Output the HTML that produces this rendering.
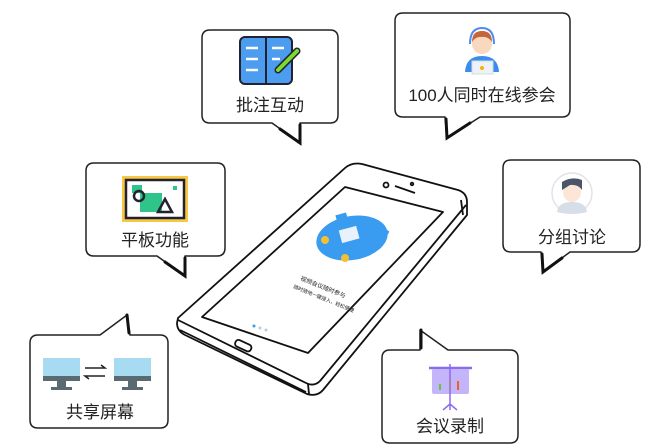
<!DOCTYPE html>
<html><head><meta charset="utf-8"><style>
html,body{margin:0;padding:0;background:#fff;width:671px;height:448px;overflow:hidden}
text{font-family:"Liberation Sans","Noto Sans CJK SC",sans-serif;fill:#222}
</style></head><body>
<svg width="671" height="448" viewBox="0 0 671 448" xmlns="http://www.w3.org/2000/svg">
<g fill="#fff" stroke="#222" stroke-width="1.5" stroke-linejoin="round">
<!-- 批注互动 -->
<path d="M210,30 H330 Q338,30 338,38 V115 Q338,123 330,123 H300 V143 L272,123 H210 Q202,123 202,115 V38 Q202,30 210,30 Z"/>
<!-- 100人 -->
<path d="M403,13 H562 Q570,13 570,21 V109 Q570,117 562,117 H480 L447,138 L445,117 H403 Q395,117 395,109 V21 Q395,13 403,13 Z"/>
<!-- 平板功能 -->
<path d="M94,163 H217 Q225,163 225,171 V248 Q225,256 217,256 H185 V276 L157,256 H94 Q86,256 86,248 V171 Q86,163 94,163 Z"/>
<!-- 分组讨论 -->
<path d="M511,160 H632 Q640,160 640,168 V244 Q640,252 632,252 H570 L543,272 L541,252 H511 Q503,252 503,244 V168 Q503,160 511,160 Z"/>
<!-- 共享屏幕 -->
<path d="M38,335 H100 L127,315 L130,335 H160 Q168,335 168,343 V420 Q168,428 160,428 H38 Q30,428 30,420 V343 Q30,335 38,335 Z"/>
<!-- 会议录制 -->
<path d="M390,350 H420 V330 L448,350 H510 Q518,350 518,358 V435 Q518,443 510,443 H390 Q382,443 382,435 V358 Q382,350 390,350 Z"/>
</g>
<g stroke="#111" stroke-width="3" fill="none" stroke-linecap="round">
<path d="M300,125 V143 L280,129"/><path d="M446,119 L447,138 L470,123"/>
<path d="M185,258 V276 L165,262"/><path d="M542,254 L543,272 L562,258"/>
<path d="M127,315 L129,333"/><path d="M421,330 L421,348"/>
</g>
<!-- texts -->
<g font-size="17" text-anchor="middle">
<text x="270" y="111">批注互动</text>
<text x="482" y="101">100人同时在线参会</text>
<text x="155" y="246">平板功能</text>
<text x="572" y="243">分组讨论</text>
<text x="100" y="418">共享屏幕</text>
<text x="450" y="432">会议录制</text>
</g>
<!-- icon book -->
<rect x="240" y="37" width="52" height="47" rx="5" fill="#4c9cf0" stroke="#223" stroke-width="2"/>
<line x1="266" y1="38" x2="266" y2="84" stroke="#223" stroke-width="2"/>
<g stroke="#fff" stroke-width="2.5"><line x1="246" y1="48" x2="258" y2="48"/><line x1="246" y1="59" x2="258" y2="59"/><line x1="246" y1="70" x2="258" y2="70"/><line x1="272" y1="48" x2="284" y2="48"/><line x1="272" y1="59" x2="280" y2="59"/></g>
<line x1="278" y1="70" x2="297" y2="51" stroke="#223" stroke-width="7" stroke-linecap="round"/>
<line x1="278" y1="70" x2="297" y2="51" stroke="#7cdc2c" stroke-width="4" stroke-linecap="round"/>
<!-- person headset -->
<circle cx="482" cy="44" r="10" fill="#f8d9c0"/>
<path d="M472,42 Q472,31 482,31 Q492,31 492,42 Q488,36 482,37 Q476,36 472,42Z" fill="#c8643a"/>
<path d="M470,44 Q470,28 482,28 Q494,28 494,44" stroke="#4c8cf0" stroke-width="2" fill="none"/>
<path d="M465,72 Q466,56 482,56 Q498,56 499,72Z" fill="#3c8cf0"/>
<rect x="472" y="61" width="21" height="13" fill="#eef2f8" stroke="#cdd"/>
<circle cx="482" cy="68" r="2" fill="#f4b400"/>
<!-- tablet icon -->
<rect x="122" y="176" width="66" height="46" fill="#f7c843"/>
<rect x="126" y="180" width="58" height="38" fill="#fff" stroke="#223" stroke-width="2.5"/>
<rect x="132" y="185" width="10" height="8" fill="#2fc58a"/><rect x="140" y="193" width="22" height="19" fill="#2fc58a"/><rect x="173" y="186" width="4" height="4" fill="#2fc58a"/>
<circle cx="139" cy="196" r="5" fill="none" stroke="#223" stroke-width="2.5"/>
<path d="M158,212 L165,199 L172,212Z" fill="none" stroke="#223" stroke-width="2.5"/>
<!-- avatar -->
<circle cx="572" cy="193" r="20" fill="#fff" stroke="#e2e2ea" stroke-width="1.5"/>
<path d="M557,212 Q558,202 572,202 Q586,202 587,212 Q580,214 572,214 Q564,214 557,212Z" fill="#d6dfe8"/>
<ellipse cx="572" cy="192" rx="9" ry="10" fill="#fbe6d8"/>
<path d="M562,190 V182 Q572,176 582,180 V190 Q578,184 570,185 Z" fill="#4a5568"/>
<!-- monitors -->
<g><rect x="43" y="358" width="37" height="22" fill="#a6dbf2"/><rect x="43" y="376" width="37" height="5" fill="#5a6a72"/><rect x="57" y="381" width="9" height="6" fill="#5a6a72"/><rect x="51" y="387" width="21" height="3" fill="#5a6a72"/></g>
<g><rect x="114" y="358" width="37" height="22" fill="#a6dbf2"/><rect x="114" y="376" width="37" height="5" fill="#5a6a72"/><rect x="128" y="381" width="9" height="6" fill="#5a6a72"/><rect x="122" y="387" width="21" height="3" fill="#5a6a72"/></g>
<g stroke="#222" stroke-width="1.5" fill="none"><path d="M85,368 H105 L101,365"/><path d="M105,376 H85 L89,379"/></g>
<!-- presentation -->
<line x1="429" y1="368" x2="472" y2="368" stroke="#8a6cf0" stroke-width="2.5"/>
<rect x="432" y="369" width="37" height="25" rx="2" fill="#c4b4fa"/>
<line x1="440" y1="384" x2="440" y2="390" stroke="#5cc83c" stroke-width="2"/>
<line x1="450" y1="378" x2="450" y2="390" stroke="#f4c400" stroke-width="2"/>
<line x1="458" y1="381" x2="458" y2="390" stroke="#f06020" stroke-width="2"/>
<path d="M450,364 V410 M443,410 L450,404 L457,410" stroke="#8a6cf0" stroke-width="1.5" fill="none"/>
<!-- phone -->
<g fill="none" stroke="#111" stroke-width="1.8" stroke-linejoin="round">
<path d="M345,168 Q352,162 362,164 L458,190 Q467,193 467,202 L467,215 L323,390 Q317,397 307,394 L185,335 Q177,331 177,323 L178,318 Z" fill="#fff"/>
<path d="M178,320 L306,383 Q314,387 320,381 L466,205"/>
<path d="M180,330 L306,392"/>
<path d="M308,384 L309,394"/>
<path d="M461,200 L463,215"/>
<path d="M345,187 L443,212 L308,353 L202,317 Z"/>
<rect x="235" y="342" width="17" height="7" rx="3" transform="rotate(25 243 345)"/>
<circle cx="386" cy="185" r="2.5"/><path d="M395,186 L415,193"/><circle cx="412" cy="184" r="1.3"/>
</g>
<!-- screen content -->
<ellipse cx="352" cy="238" rx="36" ry="22" fill="#3a9cf0" transform="rotate(-10 352 238)"/>
<rect x="340" y="228" width="18" height="13" fill="#e8f2fc" transform="rotate(-15 349 234)"/>
<rect x="336" y="214" width="11" height="7" fill="#3a9cf0" transform="rotate(-15 341 217)"/>
<rect x="362" y="219" width="10" height="7" fill="#3a9cf0" transform="rotate(-15 367 222)"/>
<rect x="381" y="229" width="7" height="9" fill="#3a9cf0" transform="rotate(30 384 233)"/>
<circle cx="325" cy="240" r="4" fill="#f4c030"/><circle cx="345" cy="258" r="4" fill="#f4c030"/>
<text x="300" y="280" font-size="6" fill="#555" transform="rotate(22 300 280)">视频会议随时参与</text>
<text x="293" y="288" font-size="5" fill="#aaa" transform="rotate(22 293 288)">随时随地一键接入，轻松便捷</text>
<circle cx="254" cy="326" r="1.5" fill="#3a9cf0"/><circle cx="260" cy="328" r="1.5" fill="#bcd"/><circle cx="266" cy="330" r="1.5" fill="#bcd"/>
</svg>
</body></html>
